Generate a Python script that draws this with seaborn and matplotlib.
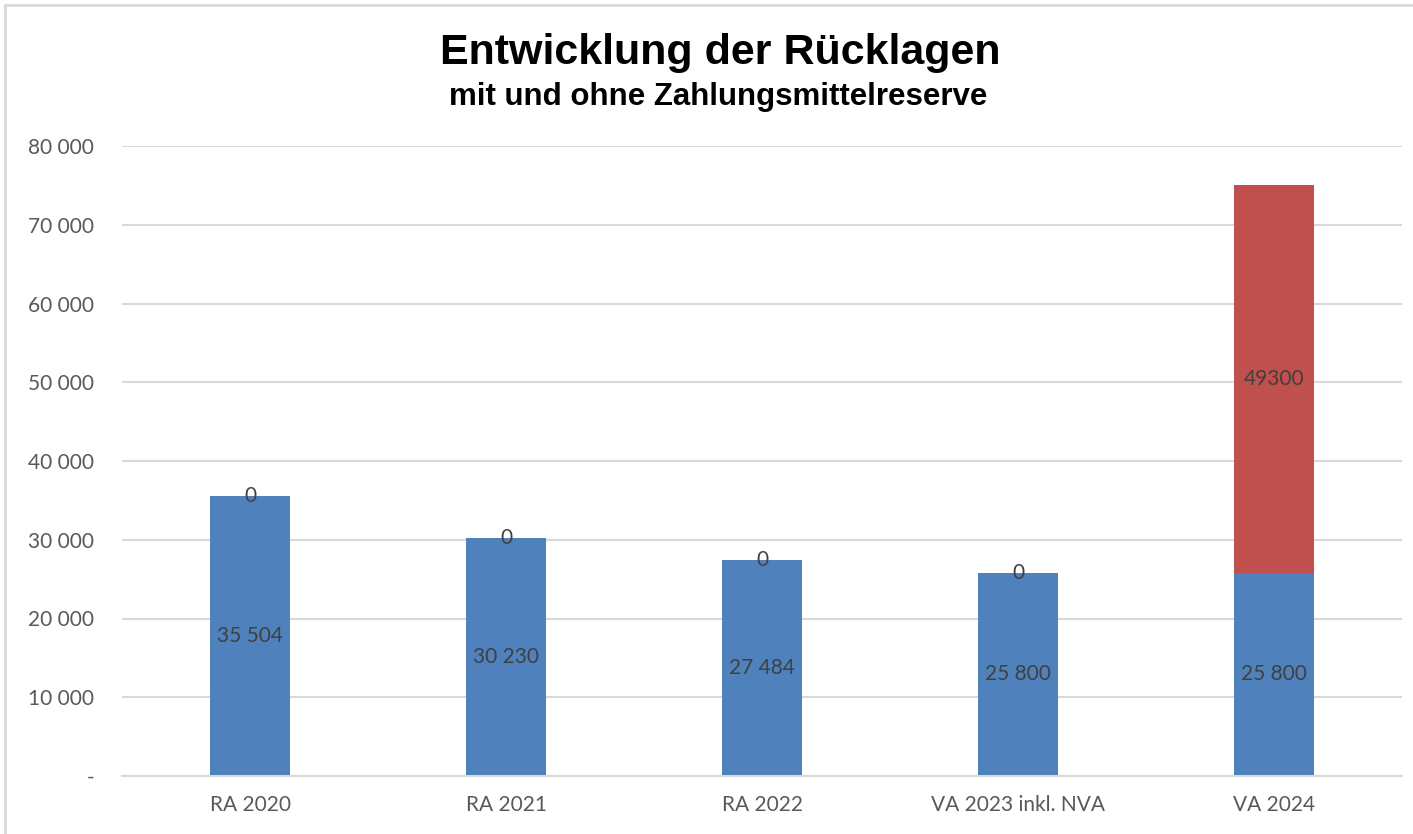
import matplotlib
matplotlib.use("Agg")
import matplotlib.pyplot as plt
import matplotlib.ticker as mticker
from matplotlib.patches import Rectangle
import pandas as pd
import seaborn as sns

# Data
kategorien = ["RA 2020", "RA 2021", "RA 2022", "VA 2023 inkl. NVA", "VA 2024"]
ohne_reserve = [35504, 30230, 27484, 25800, 25800]
zahlungsmittelreserve = [0, 0, 0, 0, 49300]
y_ticks = [0, 10000, 20000, 30000, 40000, 50000, 60000, 70000, 80000]

df = pd.DataFrame({
    "Kategorie": kategorien,
    "Ohne": ohne_reserve,
    "Reserve": zahlungsmittelreserve,
})
df["Gesamt"] = df["Ohne"] + df["Reserve"]

blau = "#4F81BD"
rot = "#C0504D"
grau = "#D9D9D9"

sns.set_theme(style="white")
plt.rcParams["font.family"] = ["Lato", "DejaVu Sans"]

fig = plt.figure(figsize=(14.13, 8.34), dpi=100)
ax = fig.add_axes([122 / 1413, 1 - 776 / 834, (1402 - 122) / 1413, (776 - 146) / 834])

# stacked bars: total in red, then the blue part on top of it
sns.barplot(data=df, x="Kategorie", y="Gesamt", color=rot, width=0.31,
            saturation=1, linewidth=0, ax=ax, zorder=2)
sns.barplot(data=df, x="Kategorie", y="Ohne", color=blau, width=0.31,
            saturation=1, linewidth=0, ax=ax, zorder=3)

# data labels
for i, row in df.iterrows():
    ax.text(i, row["Ohne"] / 2, f"{row['Ohne']:,}".replace(",", " "),
            ha="center", va="center", fontsize=15, color="#404040", zorder=4)
    ax.text(i, row["Ohne"] + row["Reserve"] / 2, str(row["Reserve"]),
            ha="center", va="center", fontsize=15, color="#404040", zorder=4)

ax.set_ylim(0, 80000)
ax.set_xlim(-0.5, len(kategorien) - 0.5)
ax.set_yticks(y_ticks)
ax.yaxis.set_major_formatter(mticker.FuncFormatter(
    lambda v, p: "-" if v == 0 else f"{int(v):,}".replace(",", " ")))
ax.yaxis.grid(True, color=grau, lw=1.5)
ax.set_axisbelow(True)
for s in ["top", "right", "left"]:
    ax.spines[s].set_visible(False)
ax.spines["bottom"].set_color(grau)
ax.spines["bottom"].set_linewidth(1.5)
ax.spines["bottom"].set_zorder(5)
ax.tick_params(axis="y", length=0, pad=20, labelsize=15, labelcolor="#595959")
ax.tick_params(axis="x", length=0, pad=14, labelsize=15, labelcolor="#595959")
ax.set_xlabel("")
ax.set_ylabel("")

# titles
fig.text(720 / 1413, 1 - 53 / 834, "Entwicklung der Rücklagen", ha="center", va="center",
         fontsize=31, fontweight="bold", family="Liberation Sans", color="black")
fig.text(718 / 1413, 1 - 97 / 834, "mit und ohne Zahlungsmittelreserve", ha="center",
         va="center", fontsize=22.5, fontweight="bold", family="Liberation Sans", color="black")

# chart frame
fig.add_artist(Rectangle((5 / 1413, -0.1), 1.2, 1.1 - 5 / 834, transform=fig.transFigure,
                         fill=False, edgecolor=grau, lw=2))

fig.savefig("out.png", dpi=100)
